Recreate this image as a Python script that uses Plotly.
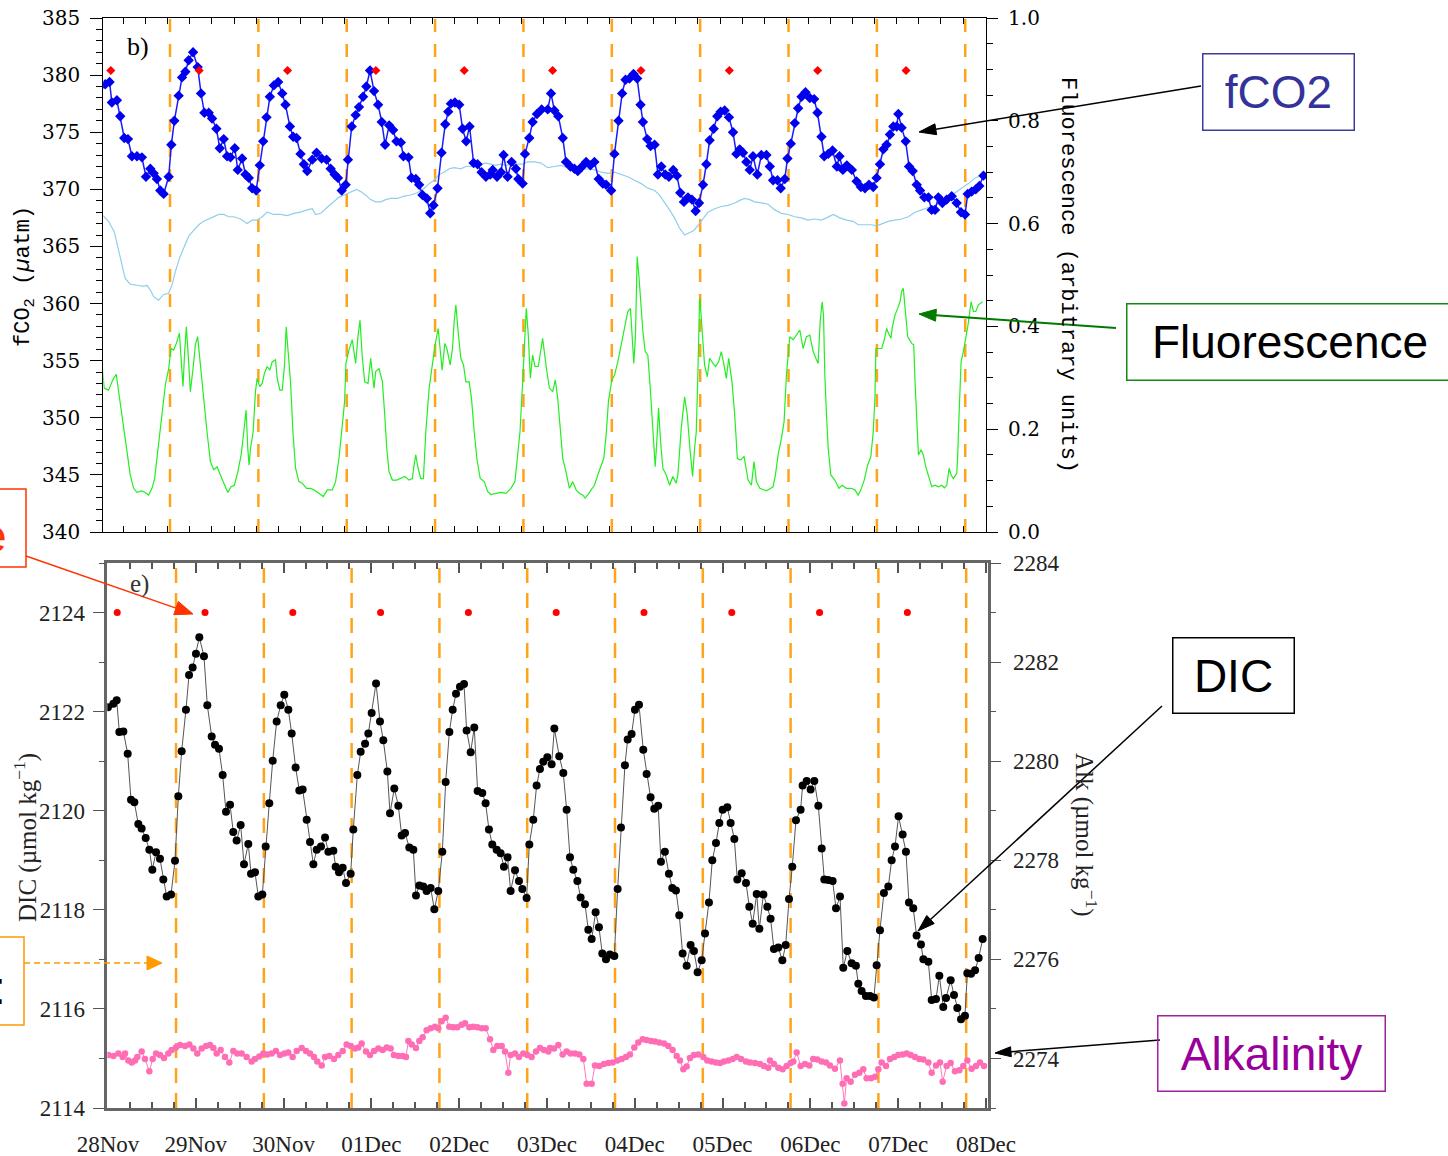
import math
import plotly.graph_objects as go

W, H = 1448, 1156

# ---------------- data (time in days since 28 Nov 00:00) ----------------
day_ticks = [0, 1, 2, 3, 4, 5, 6, 7, 8, 9, 10]
day_labels = ["28Nov", "29Nov", "30Nov", "01Dec", "02Dec", "03Dec",
              "04Dec", "05Dec", "06Dec", "07Dec", "08Dec"]

sunset_day = [0.775, 1.775, 2.775, 3.775, 4.775, 5.775, 6.775, 7.775, 8.775, 9.775]
marker_day = [0.105, 1.105, 2.105, 3.105, 4.105, 5.105, 6.105, 7.105, 8.105, 9.105]
marker_fco2 = [380.4, 380.4, 380.4, 380.4, 380.4, 380.4, 380.4, 380.4, 380.4, 380.4]
marker_dic = [2124.0, 2124.0, 2124.0, 2124.0, 2124.0, 2124.0, 2124.0, 2124.0, 2124.0, 2124.0]

fco2_pts = [
    (0.000, 379.1), (0.042, 379.2), (0.091, 379.4), (0.117, 377.6), (0.174, 377.8), (0.212, 376.4),
    (0.257, 374.5), (0.299, 374.4), (0.344, 372.9), (0.401, 372.9), (0.457, 372.8), (0.503, 371.1),
    (0.552, 371.8), (0.590, 371.4), (0.627, 370.9), (0.665, 369.9), (0.703, 369.6), (0.760, 371.1),
    (0.790, 373.9), (0.824, 376.0), (0.873, 378.2), (0.911, 379.8), (0.949, 380.3), (0.986, 381.3),
    (1.036, 382.0), (1.088, 380.7), (1.126, 378.4), (1.164, 376.7), (1.213, 376.7), (1.251, 376.2),
    (1.300, 375.3), (1.338, 373.6), (1.383, 374.4), (1.421, 372.9), (1.459, 372.8), (1.508, 373.6),
    (1.542, 371.7), (1.591, 372.7), (1.629, 371.3), (1.667, 371.0), (1.704, 370.1), (1.750, 369.9),
    (1.791, 372.1), (1.829, 374.2), (1.867, 376.3), (1.905, 378.1), (1.950, 379.1), (1.999, 379.4),
    (2.045, 378.4), (2.082, 377.4), (2.132, 375.5), (2.169, 374.6), (2.207, 374.5), (2.252, 373.1),
    (2.290, 372.2), (2.328, 371.6), (2.385, 372.6), (2.434, 373.2), (2.491, 372.7), (2.547, 372.6),
    (2.593, 371.8), (2.638, 371.3), (2.676, 371.0), (2.718, 369.9), (2.763, 370.4), (2.789, 372.6),
    (2.831, 375.5), (2.876, 376.5), (2.914, 377.2), (2.960, 378.1), (2.997, 379.0), (3.039, 380.4),
    (3.084, 378.6), (3.130, 377.4), (3.171, 375.9), (3.209, 373.9), (3.255, 375.6), (3.300, 375.2),
    (3.338, 374.2), (3.387, 374.1), (3.417, 372.9), (3.474, 372.8), (3.508, 371.0), (3.557, 370.9),
    (3.595, 370.4), (3.632, 369.5), (3.682, 369.2), (3.720, 367.9), (3.757, 368.6), (3.803, 370.1),
    (3.848, 373.2), (3.890, 375.7), (3.924, 376.8), (3.954, 377.5), (3.999, 377.6), (4.048, 377.4),
    (4.086, 375.3), (4.127, 374.2), (4.165, 375.5), (4.211, 372.3), (4.256, 372.2), (4.301, 371.5),
    (4.350, 371.1), (4.400, 371.3), (4.427, 371.7), (4.476, 371.1), (4.521, 371.5), (4.550, 373.0),
    (4.596, 371.1), (4.641, 372.4), (4.690, 371.8), (4.717, 370.9), (4.766, 370.5), (4.792, 373.1),
    (4.841, 374.5), (4.879, 375.9), (4.928, 376.6), (4.981, 377.0), (5.050, 377.0), (5.087, 378.4),
    (5.125, 376.9), (5.170, 376.4), (5.220, 374.5), (5.257, 372.4), (5.306, 372.0), (5.352, 371.8),
    (5.390, 371.6), (5.439, 372.0), (5.484, 372.4), (5.533, 372.1), (5.578, 372.4), (5.627, 370.9),
    (5.673, 370.5), (5.711, 370.4), (5.768, 369.9), (5.805, 373.1), (5.851, 376.0), (5.892, 378.4),
    (5.930, 379.6), (5.975, 379.7), (6.021, 380.1), (6.062, 379.7), (6.100, 377.4), (6.127, 375.9),
    (6.176, 374.4), (6.214, 373.8), (6.259, 373.9), (6.297, 371.3), (6.335, 372.0), (6.380, 371.3),
    (6.421, 371.1), (6.470, 371.7), (6.512, 371.2), (6.550, 369.7), (6.591, 368.9), (6.637, 369.3),
    (6.682, 369.1), (6.724, 368.1), (6.762, 368.8), (6.807, 370.4), (6.845, 372.2), (6.882, 374.3),
    (6.928, 375.3), (6.969, 376.4), (7.007, 376.8), (7.052, 376.9), (7.101, 376.3), (7.147, 375.0),
    (7.185, 373.1), (7.222, 373.5), (7.260, 373.2), (7.298, 372.4), (7.336, 371.7), (7.373, 372.9),
    (7.422, 371.3), (7.468, 373.0), (7.525, 373.0), (7.563, 372.0), (7.600, 370.8), (7.650, 370.8),
    (7.687, 370.1), (7.733, 370.9), (7.763, 372.7), (7.801, 374.0), (7.846, 375.8), (7.884, 377.1),
    (7.922, 378.1), (7.967, 378.5), (8.016, 378.0), (8.065, 377.9), (8.103, 376.7), (8.148, 374.6),
    (8.179, 372.9), (8.224, 373.1), (8.273, 373.4), (8.322, 372.0), (8.352, 372.9), (8.390, 371.7),
    (8.435, 372.1), (8.492, 371.7), (8.545, 370.7), (8.594, 370.2), (8.640, 370.1), (8.685, 370.4),
    (8.734, 370.2), (8.772, 371.0), (8.810, 372.2), (8.848, 373.5), (8.885, 373.9), (8.923, 374.8),
    (8.961, 375.5), (8.999, 375.5), (9.018, 376.6), (9.055, 375.4), (9.101, 374.2), (9.139, 372.0),
    (9.180, 371.6), (9.226, 370.4), (9.264, 369.9), (9.312, 369.3), (9.358, 369.3), (9.395, 368.2),
    (9.433, 368.2), (9.471, 369.3), (9.516, 368.8), (9.565, 369.1), (9.622, 369.4), (9.678, 368.8),
    (9.727, 368.0), (9.773, 367.8), (9.803, 369.6), (9.848, 369.8), (9.894, 370.0), (9.935, 370.3),
    (9.981, 371.2),
]

lightblue_pts = [
    (0.004, 367.8), (0.079, 367.2), (0.144, 366.3), (0.193, 364.8), (0.231, 363.4), (0.268, 362.2),
    (0.325, 361.7), (0.401, 361.6), (0.476, 361.5), (0.514, 361.6), (0.552, 361.2), (0.590, 360.6),
    (0.646, 360.3), (0.703, 360.8), (0.760, 360.9), (0.797, 361.6), (0.835, 362.8), (0.884, 364.0),
    (0.930, 364.8), (0.986, 365.9), (1.043, 366.4), (1.100, 366.9), (1.156, 367.2), (1.213, 367.4),
    (1.270, 367.6), (1.327, 367.8), (1.383, 367.8), (1.440, 367.6), (1.497, 367.6), (1.572, 367.4),
    (1.648, 367.0), (1.704, 367.3), (1.761, 367.3), (1.818, 367.6), (1.875, 368.0), (1.950, 367.8),
    (2.026, 367.8), (2.101, 367.7), (2.177, 367.9), (2.252, 368.0), (2.328, 368.2), (2.385, 368.3),
    (2.423, 367.8), (2.479, 367.9), (2.536, 368.3), (2.585, 368.6), (2.630, 368.9), (2.687, 369.3),
    (2.744, 369.5), (2.800, 369.7), (2.849, 369.9), (2.887, 370.0), (2.933, 369.8), (2.989, 369.5),
    (3.046, 369.1), (3.103, 368.9), (3.159, 368.9), (3.216, 369.1), (3.273, 369.2), (3.348, 369.2),
    (3.424, 369.4), (3.500, 369.5), (3.575, 369.7), (3.651, 370.1), (3.708, 370.5), (3.764, 370.8),
    (3.821, 371.3), (3.878, 371.5), (3.934, 371.8), (3.991, 371.9), (4.066, 371.8), (4.123, 372.0),
    (4.180, 372.0), (4.236, 372.1), (4.293, 372.2), (4.350, 372.3), (4.407, 372.2), (4.463, 372.1),
    (4.520, 372.2), (4.577, 372.1), (4.633, 372.2), (4.709, 372.2), (4.766, 372.2), (4.822, 372.4),
    (4.898, 372.4), (4.974, 372.3), (5.049, 371.9), (5.125, 372.0), (5.200, 372.1), (5.276, 371.9),
    (5.351, 371.8), (5.427, 371.7), (5.503, 371.8), (5.578, 371.7), (5.654, 371.5), (5.729, 371.4),
    (5.805, 371.5), (5.881, 371.3), (5.956, 371.1), (6.032, 370.8), (6.107, 370.5), (6.183, 370.1),
    (6.259, 369.9), (6.315, 369.5), (6.372, 368.9), (6.429, 368.2), (6.485, 367.5), (6.542, 366.6),
    (6.599, 366.0), (6.644, 366.2), (6.704, 366.4), (6.757, 366.9), (6.807, 367.4), (6.863, 368.0),
    (6.939, 368.3), (7.014, 368.5), (7.090, 368.6), (7.166, 368.8), (7.241, 369.1), (7.279, 369.2),
    (7.336, 369.1), (7.392, 368.9), (7.487, 368.8), (7.544, 368.7), (7.619, 368.2), (7.695, 367.9),
    (7.770, 367.8), (7.846, 367.6), (7.922, 367.5), (7.997, 367.3), (8.073, 367.4), (8.148, 367.3),
    (8.205, 367.5), (8.281, 367.8), (8.356, 367.5), (8.432, 367.3), (8.507, 367.2), (8.564, 366.9),
    (8.639, 366.9), (8.715, 366.9), (8.772, 366.8), (8.828, 367.0), (8.904, 367.2), (8.980, 367.3),
    (9.055, 367.4), (9.131, 367.6), (9.206, 368.0), (9.282, 368.2), (9.358, 368.4), (9.433, 368.6),
    (9.509, 368.9), (9.584, 369.2), (9.660, 369.7), (9.735, 370.1), (9.811, 370.5), (9.887, 371.0),
    (9.981, 371.3),
]

fluor_pts = [
    (0.004, 0.328), (0.030, 0.280), (0.079, 0.276), (0.128, 0.296), (0.166, 0.307), (0.204, 0.260),
    (0.242, 0.215), (0.287, 0.163), (0.325, 0.111), (0.363, 0.085), (0.401, 0.077), (0.457, 0.080),
    (0.495, 0.077), (0.533, 0.072), (0.571, 0.085), (0.601, 0.104), (0.639, 0.163), (0.684, 0.228),
    (0.722, 0.286), (0.760, 0.318), (0.786, 0.357), (0.816, 0.354), (0.847, 0.367), (0.881, 0.387),
    (0.899, 0.338), (0.922, 0.283), (0.941, 0.351), (0.960, 0.399), (0.986, 0.331), (1.005, 0.273),
    (1.036, 0.318), (1.062, 0.364), (1.088, 0.380), (1.119, 0.331), (1.156, 0.260), (1.194, 0.195),
    (1.232, 0.137), (1.270, 0.121), (1.308, 0.127), (1.345, 0.111), (1.391, 0.091), (1.429, 0.077),
    (1.466, 0.088), (1.504, 0.091), (1.542, 0.117), (1.580, 0.150), (1.610, 0.195), (1.636, 0.237),
    (1.655, 0.163), (1.670, 0.130), (1.686, 0.163), (1.716, 0.195), (1.742, 0.273), (1.761, 0.299),
    (1.791, 0.283), (1.818, 0.289), (1.844, 0.309), (1.875, 0.322), (1.905, 0.315), (1.931, 0.331),
    (1.969, 0.335), (1.988, 0.299), (2.018, 0.276), (2.045, 0.276), (2.071, 0.325), (2.090, 0.399),
    (2.109, 0.357), (2.139, 0.292), (2.166, 0.195), (2.196, 0.124), (2.234, 0.098), (2.271, 0.095),
    (2.320, 0.085), (2.366, 0.085), (2.404, 0.082), (2.449, 0.077), (2.498, 0.072), (2.510, 0.069),
    (2.555, 0.082), (2.612, 0.082), (2.649, 0.098), (2.687, 0.143), (2.725, 0.208), (2.751, 0.254),
    (2.766, 0.328), (2.800, 0.354), (2.838, 0.374), (2.876, 0.328), (2.902, 0.380), (2.925, 0.412),
    (2.952, 0.338), (2.978, 0.292), (3.016, 0.289), (3.046, 0.338), (3.084, 0.280), (3.103, 0.312),
    (3.141, 0.318), (3.179, 0.292), (3.205, 0.228), (3.228, 0.163), (3.254, 0.117), (3.292, 0.101),
    (3.341, 0.101), (3.386, 0.104), (3.432, 0.108), (3.481, 0.101), (3.518, 0.104), (3.537, 0.130),
    (3.556, 0.150), (3.583, 0.124), (3.613, 0.104), (3.643, 0.104), (3.670, 0.195), (3.708, 0.280),
    (3.745, 0.325), (3.772, 0.361), (3.810, 0.396), (3.832, 0.357), (3.855, 0.315), (3.885, 0.367),
    (3.908, 0.357), (3.946, 0.325), (3.972, 0.357), (3.991, 0.409), (4.010, 0.442), (4.036, 0.390),
    (4.066, 0.338), (4.097, 0.325), (4.123, 0.292), (4.161, 0.292), (4.187, 0.260), (4.218, 0.195),
    (4.248, 0.143), (4.286, 0.104), (4.331, 0.098), (4.369, 0.079), (4.407, 0.073), (4.463, 0.075),
    (4.520, 0.077), (4.577, 0.075), (4.633, 0.085), (4.679, 0.098), (4.709, 0.143), (4.736, 0.195),
    (4.766, 0.292), (4.785, 0.357), (4.807, 0.435), (4.830, 0.383), (4.853, 0.299), (4.879, 0.344),
    (4.906, 0.322), (4.943, 0.322), (4.992, 0.377), (5.030, 0.325), (5.068, 0.280), (5.106, 0.273),
    (5.136, 0.296), (5.163, 0.260), (5.193, 0.195), (5.220, 0.143), (5.257, 0.117), (5.295, 0.085),
    (5.333, 0.098), (5.371, 0.082), (5.409, 0.075), (5.446, 0.072), (5.473, 0.066), (5.503, 0.072),
    (5.541, 0.082), (5.579, 0.091), (5.616, 0.111), (5.654, 0.127), (5.684, 0.143), (5.711, 0.189),
    (5.737, 0.254), (5.775, 0.296), (5.805, 0.305), (5.843, 0.331), (5.881, 0.364), (5.919, 0.403),
    (5.956, 0.429), (5.986, 0.435), (6.005, 0.383), (6.024, 0.328), (6.043, 0.383), (6.062, 0.536),
    (6.081, 0.500), (6.100, 0.455), (6.127, 0.390), (6.153, 0.351), (6.183, 0.344), (6.213, 0.273),
    (6.240, 0.208), (6.266, 0.127), (6.289, 0.189), (6.304, 0.241), (6.327, 0.176), (6.353, 0.124),
    (6.391, 0.111), (6.429, 0.091), (6.466, 0.108), (6.504, 0.095), (6.523, 0.111), (6.561, 0.202),
    (6.599, 0.263), (6.629, 0.228), (6.659, 0.163), (6.689, 0.108), (6.712, 0.163), (6.731, 0.195),
    (6.750, 0.312), (6.769, 0.455), (6.780, 0.435), (6.799, 0.383), (6.825, 0.325), (6.856, 0.302),
    (6.882, 0.338), (6.920, 0.328), (6.950, 0.322), (6.984, 0.331), (7.014, 0.351), (7.045, 0.325),
    (7.071, 0.299), (7.098, 0.338), (7.135, 0.292), (7.166, 0.228), (7.196, 0.143), (7.234, 0.140),
    (7.272, 0.147), (7.317, 0.101), (7.355, 0.091), (7.385, 0.137), (7.412, 0.098), (7.450, 0.085),
    (7.499, 0.082), (7.525, 0.080), (7.574, 0.085), (7.600, 0.088), (7.627, 0.111), (7.657, 0.150),
    (7.695, 0.182), (7.725, 0.215), (7.751, 0.305), (7.770, 0.351), (7.789, 0.380), (7.827, 0.374),
    (7.865, 0.383), (7.903, 0.393), (7.940, 0.357), (7.978, 0.380), (8.016, 0.383), (8.054, 0.351),
    (8.084, 0.338), (8.110, 0.328), (8.133, 0.409), (8.156, 0.448), (8.171, 0.422), (8.186, 0.305),
    (8.205, 0.228), (8.224, 0.163), (8.254, 0.111), (8.299, 0.101), (8.345, 0.085), (8.382, 0.091),
    (8.431, 0.085), (8.481, 0.085), (8.526, 0.082), (8.564, 0.072), (8.594, 0.082), (8.632, 0.101),
    (8.670, 0.130), (8.707, 0.147), (8.734, 0.195), (8.753, 0.260), (8.764, 0.357), (8.791, 0.357),
    (8.829, 0.357), (8.859, 0.374), (8.886, 0.396), (8.905, 0.387), (8.935, 0.377), (8.950, 0.399),
    (8.980, 0.422), (9.010, 0.435), (9.037, 0.448), (9.055, 0.468), (9.074, 0.474), (9.093, 0.438),
    (9.124, 0.380), (9.169, 0.367), (9.192, 0.364), (9.207, 0.292), (9.226, 0.228), (9.245, 0.150),
    (9.275, 0.160), (9.301, 0.150), (9.328, 0.127), (9.358, 0.108), (9.396, 0.088), (9.433, 0.091),
    (9.471, 0.088), (9.509, 0.091), (9.539, 0.086), (9.566, 0.091), (9.592, 0.124), (9.615, 0.111),
    (9.641, 0.104), (9.679, 0.114), (9.690, 0.150), (9.705, 0.228), (9.728, 0.331), (9.754, 0.351),
    (9.773, 0.367), (9.803, 0.399), (9.822, 0.422), (9.841, 0.448), (9.868, 0.429), (9.894, 0.429),
    (9.924, 0.442), (9.973, 0.448),
]

dic_pts = [
    (0.000, 2122.09), (0.061, 2122.16), (0.099, 2122.23), (0.129, 2121.59), (0.175, 2121.60),
    (0.224, 2121.15), (0.262, 2120.22), (0.300, 2120.17), (0.345, 2119.73), (0.383, 2119.64),
    (0.429, 2119.45), (0.471, 2119.21), (0.505, 2118.81), (0.547, 2119.16), (0.592, 2119.03),
    (0.630, 2118.61), (0.668, 2118.27), (0.718, 2118.31), (0.763, 2118.99), (0.801, 2120.29),
    (0.839, 2121.20), (0.888, 2122.04), (0.923, 2122.74), (0.964, 2122.89), (1.002, 2123.17),
    (1.040, 2123.50), (1.093, 2123.12), (1.131, 2122.13), (1.181, 2121.50), (1.219, 2121.33),
    (1.264, 2121.25), (1.306, 2120.72), (1.344, 2119.98), (1.390, 2120.12), (1.427, 2119.57),
    (1.465, 2119.40), (1.511, 2119.71), (1.549, 2118.92), (1.598, 2119.33), (1.629, 2118.73),
    (1.674, 2118.76), (1.712, 2118.27), (1.758, 2118.31), (1.796, 2119.28), (1.837, 2120.15),
    (1.876, 2121.01), (1.921, 2121.80), (1.967, 2122.13), (2.008, 2122.34), (2.054, 2122.04),
    (2.092, 2121.56), (2.137, 2120.87), (2.179, 2120.41), (2.217, 2120.43), (2.263, 2119.82),
    (2.301, 2119.37), (2.339, 2118.92), (2.377, 2119.21), (2.426, 2119.28), (2.472, 2119.46),
    (2.510, 2119.17), (2.567, 2119.19), (2.593, 2118.87), (2.631, 2118.76), (2.673, 2118.85),
    (2.711, 2118.54), (2.764, 2118.73), (2.794, 2119.62), (2.840, 2120.72), (2.878, 2121.19),
    (2.928, 2121.35), (2.965, 2121.56), (3.003, 2121.97), (3.053, 2122.57), (3.098, 2121.80),
    (3.136, 2121.42), (3.182, 2120.79), (3.212, 2119.95), (3.261, 2120.45), (3.307, 2120.10),
    (3.345, 2119.50), (3.383, 2119.55), (3.432, 2119.26), (3.478, 2119.21), (3.508, 2118.29),
    (3.546, 2118.49), (3.591, 2118.47), (3.629, 2118.38), (3.675, 2118.44), (3.717, 2118.01),
    (3.762, 2118.38), (3.808, 2119.17), (3.846, 2120.58), (3.888, 2121.59), (3.926, 2122.04),
    (3.964, 2122.36), (4.009, 2122.50), (4.055, 2122.56), (4.085, 2121.62), (4.131, 2121.18),
    (4.172, 2121.68), (4.210, 2120.40), (4.263, 2120.36), (4.301, 2120.15), (4.339, 2119.62),
    (4.377, 2119.32), (4.427, 2119.21), (4.472, 2119.14), (4.510, 2118.87), (4.551, 2119.06),
    (4.586, 2118.38), (4.636, 2118.80), (4.681, 2118.58), (4.719, 2118.42), (4.768, 2118.24),
    (4.799, 2119.32), (4.844, 2119.82), (4.882, 2120.51), (4.920, 2120.84), (4.958, 2120.99),
    (5.004, 2121.08), (5.053, 2120.94), (5.084, 2121.66), (5.140, 2121.10), (5.186, 2120.76),
    (5.224, 2120.02), (5.262, 2119.06), (5.300, 2118.81), (5.346, 2118.58), (5.383, 2118.25),
    (5.433, 2118.11), (5.471, 2117.60), (5.509, 2117.41), (5.554, 2117.95), (5.592, 2117.65),
    (5.630, 2117.12), (5.672, 2117.00), (5.717, 2117.10), (5.767, 2117.07), (5.805, 2118.42),
    (5.843, 2119.66), (5.888, 2120.92), (5.919, 2121.44), (5.964, 2121.55), (6.002, 2122.04),
    (6.048, 2122.14), (6.097, 2121.23), (6.135, 2120.74), (6.180, 2120.27), (6.222, 2120.04),
    (6.267, 2120.10), (6.298, 2118.97), (6.343, 2119.17), (6.389, 2118.73), (6.427, 2118.44),
    (6.469, 2118.39), (6.507, 2117.89), (6.545, 2117.12), (6.591, 2116.87), (6.636, 2117.29),
    (6.674, 2117.17), (6.716, 2116.74), (6.762, 2116.98), (6.800, 2117.52), (6.845, 2118.15),
    (6.883, 2119.00), (6.925, 2119.35), (6.963, 2119.75), (7.001, 2120.02), (7.054, 2120.07),
    (7.092, 2119.75), (7.134, 2119.43), (7.168, 2118.61), (7.218, 2118.74), (7.267, 2118.54),
    (7.305, 2118.06), (7.343, 2117.72), (7.389, 2118.32), (7.419, 2117.62), (7.465, 2118.31),
    (7.510, 2118.06), (7.547, 2117.82), (7.585, 2117.21), (7.635, 2117.24), (7.681, 2116.98),
    (7.719, 2117.29), (7.757, 2118.22), (7.794, 2118.87), (7.836, 2119.81), (7.889, 2120.02),
    (7.912, 2120.51), (7.958, 2120.60), (8.003, 2120.43), (8.045, 2120.60), (8.091, 2120.10),
    (8.129, 2119.24), (8.159, 2118.61), (8.204, 2118.60), (8.254, 2118.58), (8.292, 2118.03),
    (8.338, 2118.27), (8.375, 2116.83), (8.421, 2117.17), (8.470, 2116.92), (8.519, 2116.87),
    (8.546, 2116.51), (8.584, 2116.36), (8.633, 2116.26), (8.679, 2116.26), (8.724, 2116.23),
    (8.755, 2116.88), (8.793, 2117.59), (8.838, 2118.34), (8.888, 2118.47), (8.926, 2119.00),
    (8.964, 2119.28), (9.005, 2119.89), (9.051, 2119.52), (9.089, 2119.17), (9.123, 2118.15),
    (9.172, 2118.03), (9.210, 2117.48), (9.260, 2117.30), (9.287, 2117.00), (9.344, 2116.95),
    (9.382, 2116.18), (9.431, 2116.20), (9.469, 2116.67), (9.514, 2116.04), (9.545, 2116.22),
    (9.598, 2116.58), (9.636, 2116.28), (9.674, 2116.02), (9.716, 2115.79), (9.761, 2115.86),
    (9.788, 2116.72), (9.830, 2116.71), (9.876, 2116.78), (9.917, 2117.03), (9.963, 2117.41),
]

alk_pts = [
    (0.004, 2274.07), (0.061, 2274.05), (0.118, 2274.10), (0.167, 2274.03), (0.194, 2274.10),
    (0.232, 2273.96), (0.270, 2273.92), (0.308, 2273.96), (0.334, 2274.03), (0.383, 2274.14),
    (0.421, 2273.99), (0.471, 2273.74), (0.509, 2273.99), (0.547, 2274.10), (0.592, 2274.07),
    (0.638, 2274.01), (0.687, 2274.10), (0.725, 2274.17), (0.774, 2274.22), (0.820, 2274.27),
    (0.877, 2274.25), (0.926, 2274.28), (0.972, 2274.20), (1.017, 2274.10), (1.067, 2274.20),
    (1.116, 2274.25), (1.162, 2274.27), (1.200, 2274.21), (1.238, 2274.10), (1.283, 2274.17),
    (1.333, 2274.03), (1.382, 2273.92), (1.427, 2274.15), (1.473, 2274.10), (1.522, 2274.10),
    (1.579, 2274.03), (1.636, 2273.94), (1.674, 2273.99), (1.724, 2274.04), (1.769, 2274.10),
    (1.815, 2274.08), (1.864, 2274.10), (1.913, 2274.15), (1.959, 2274.07), (2.008, 2274.10),
    (2.054, 2274.12), (2.103, 2274.03), (2.149, 2274.15), (2.206, 2274.21), (2.255, 2274.15),
    (2.301, 2274.10), (2.346, 2274.03), (2.384, 2273.94), (2.434, 2273.86), (2.472, 2274.03),
    (2.521, 2274.05), (2.574, 2273.99), (2.623, 2274.07), (2.673, 2274.15), (2.718, 2274.28),
    (2.764, 2274.25), (2.813, 2274.20), (2.851, 2274.22), (2.889, 2274.30), (2.939, 2274.14),
    (2.984, 2274.07), (3.030, 2274.15), (3.079, 2274.20), (3.128, 2274.17), (3.174, 2274.22),
    (3.219, 2274.20), (3.257, 2274.07), (3.307, 2274.05), (3.356, 2274.05), (3.394, 2274.03),
    (3.421, 2274.35), (3.459, 2274.28), (3.508, 2274.21), (3.546, 2274.35), (3.584, 2274.43),
    (3.629, 2274.57), (3.675, 2274.61), (3.724, 2274.64), (3.762, 2274.61), (3.800, 2274.75),
    (3.846, 2274.82), (3.888, 2274.64), (3.933, 2274.63), (3.979, 2274.63), (4.028, 2274.68),
    (4.066, 2274.71), (4.116, 2274.63), (4.161, 2274.64), (4.207, 2274.63), (4.256, 2274.61),
    (4.302, 2274.61), (4.351, 2274.39), (4.389, 2274.17), (4.435, 2274.25), (4.484, 2274.25),
    (4.522, 2274.14), (4.560, 2273.71), (4.586, 2274.07), (4.636, 2274.10), (4.681, 2274.03),
    (4.730, 2274.10), (4.776, 2274.07), (4.825, 2274.03), (4.875, 2274.14), (4.920, 2274.21),
    (4.966, 2274.17), (5.015, 2274.14), (5.034, 2274.21), (5.080, 2274.20), (5.129, 2274.27),
    (5.178, 2274.08), (5.224, 2274.14), (5.270, 2274.10), (5.319, 2274.10), (5.368, 2274.08),
    (5.414, 2273.99), (5.452, 2273.49), (5.509, 2273.49), (5.547, 2273.86), (5.596, 2273.85),
    (5.649, 2273.89), (5.699, 2273.91), (5.748, 2273.92), (5.801, 2273.96), (5.851, 2273.99),
    (5.900, 2274.03), (5.945, 2274.08), (5.995, 2274.22), (6.040, 2274.32), (6.090, 2274.39),
    (6.135, 2274.37), (6.185, 2274.35), (6.230, 2274.34), (6.279, 2274.32), (6.333, 2274.30),
    (6.382, 2274.25), (6.431, 2274.17), (6.477, 2274.05), (6.515, 2273.96), (6.553, 2273.78),
    (6.591, 2273.84), (6.629, 2274.01), (6.674, 2274.07), (6.724, 2274.08), (6.781, 2274.03),
    (6.826, 2273.96), (6.876, 2273.94), (6.925, 2273.92), (6.971, 2273.91), (7.016, 2273.94),
    (7.066, 2273.96), (7.115, 2273.99), (7.161, 2274.03), (7.210, 2273.99), (7.267, 2273.94),
    (7.312, 2273.92), (7.369, 2273.91), (7.426, 2273.89), (7.472, 2273.85), (7.521, 2273.81),
    (7.540, 2273.96), (7.585, 2273.89), (7.635, 2273.81), (7.684, 2273.78), (7.730, 2273.85),
    (7.775, 2273.91), (7.806, 2273.94), (7.844, 2274.12), (7.889, 2273.85), (7.938, 2273.89),
    (7.988, 2273.86), (8.033, 2273.99), (8.079, 2273.98), (8.128, 2273.94), (8.178, 2273.92),
    (8.223, 2273.86), (8.280, 2273.79), (8.337, 2273.96), (8.368, 2273.49), (8.387, 2273.09),
    (8.413, 2273.60), (8.459, 2273.53), (8.508, 2273.67), (8.558, 2273.71), (8.603, 2273.78),
    (8.641, 2273.60), (8.691, 2273.60), (8.736, 2273.63), (8.774, 2273.78), (8.812, 2273.92),
    (8.862, 2273.85), (8.907, 2273.99), (8.956, 2274.03), (9.002, 2274.07), (9.051, 2274.08),
    (9.097, 2274.10), (9.143, 2274.07), (9.192, 2274.03), (9.241, 2273.99), (9.287, 2273.98),
    (9.344, 2273.92), (9.382, 2273.71), (9.431, 2273.86), (9.477, 2273.92), (9.507, 2273.53),
    (9.552, 2273.85), (9.598, 2273.91), (9.647, 2273.74), (9.697, 2273.76), (9.742, 2273.85),
    (9.788, 2273.96), (9.837, 2273.79), (9.887, 2273.85), (9.932, 2273.92), (9.978, 2273.85),
]

fco2_day, fco2_val = zip(*fco2_pts)
lb_day, lb_val = zip(*lightblue_pts)
fl_day, fl_val = zip(*fluor_pts)
dic_day, dic_val = zip(*dic_pts)
alk_day, alk_val = zip(*alk_pts)


# ---------------- helpers (pixel -> paper) ----------------
def px(x):
    return x / W


def py(y):
    return 1 - y / H


SERIF = "Liberation Serif"
MONO = "Liberation Mono"
DV = "DejaVu Serif"
SANS = "Liberation Sans"
ORANGE = "#ffa31a"

fig = go.Figure()

# ---- top panel ----
fig.add_trace(go.Scatter(x=lb_day, y=lb_val, xaxis="x2", yaxis="y2", mode="lines",
                         line=dict(color="#8fcfe8", width=1.2), hoverinfo="skip"))
fig.add_trace(go.Scatter(x=fl_day, y=fl_val, xaxis="x2", yaxis="y3", mode="lines",
                         line=dict(color="#22ee22", width=1.2), hoverinfo="skip"))
fig.add_trace(go.Scatter(x=fco2_day, y=fco2_val, xaxis="x2", yaxis="y2", mode="lines+markers",
                         line=dict(color="#1a1aff", width=1.5),
                         marker=dict(symbol="diamond", size=8, color="#0000ee")))
fig.add_trace(go.Scatter(x=marker_day, y=marker_fco2, xaxis="x2", yaxis="y2", mode="markers",
                         marker=dict(symbol="diamond", size=7, color="#ff0000")))

# ---- bottom panel ----
fig.add_trace(go.Scatter(x=alk_day, y=alk_val, xaxis="x", yaxis="y4", mode="lines+markers",
                         line=dict(color="#ff77bb", width=1),
                         marker=dict(symbol="circle", size=6.5, color="#ff6eb4")))
fig.add_trace(go.Scatter(x=dic_day, y=dic_val, xaxis="x", yaxis="y", mode="lines+markers",
                         line=dict(color="#555555", width=1),
                         marker=dict(symbol="circle", size=8, color="#000000")))
fig.add_trace(go.Scatter(x=marker_day, y=marker_dic, xaxis="x", yaxis="y", mode="markers",
                         marker=dict(symbol="circle", size=7, color="#ff0000")))

shapes = []
for d in sunset_day:
    shapes.append(dict(type="line", xref="x2", yref="y2 domain", x0=d, x1=d, y0=0, y1=1,
                       line=dict(color=ORANGE, width=2.5, dash="13px,12px"), layer="below"))
    shapes.append(dict(type="line", xref="x", yref="y domain", x0=d, x1=d, y0=0, y1=1,
                       line=dict(color=ORANGE, width=2.5, dash="15px,10px"), layer="below"))

# left partially visible boxes
shapes.append(dict(type="rect", xref="paper", yref="paper", x0=px(-30), x1=px(26),
                   y0=py(567), y1=py(489), line=dict(color="#ff3300", width=1.5)))
shapes.append(dict(type="rect", xref="paper", yref="paper", x0=px(-30), x1=px(24),
                   y0=py(1025), y1=py(937), line=dict(color="#ff9900", width=1.5)))


def arrow(tail, tip, color, width=1.5, head_len=16, head_w=11, dash=None):
    """Line + filled triangular head, given in screen pixels."""
    dx, dy = tip[0] - tail[0], tip[1] - tail[1]
    n = math.hypot(dx, dy)
    ux, uy = dx / n, dy / n
    bx, by = tip[0] - ux * head_len, tip[1] - uy * head_len
    nx, ny = -uy * head_w / 2, ux * head_w / 2
    line = dict(color=color, width=width)
    if dash:
        line["dash"] = dash
    out = [dict(type="line", xref="paper", yref="paper", x0=px(tail[0]), y0=py(tail[1]),
                x1=px(bx), y1=py(by), line=line)]
    path = "M {:.5f} {:.5f} L {:.5f} {:.5f} L {:.5f} {:.5f} Z".format(
        px(tip[0]), py(tip[1]), px(bx + nx), py(by + ny), px(bx - nx), py(by - ny))
    out.append(dict(type="path", xref="paper", yref="paper", path=path,
                    fillcolor=color, line=dict(color=color, width=1)))
    return out


shapes += arrow((1201, 86), (919, 132), "#000000", 1.5, 17, 11)
shapes += arrow((1116, 328), (919, 314), "#007a00", 2, 17, 12)
shapes += arrow((1162, 706), (918, 931), "#000000", 1.5, 17, 11)
shapes += arrow((1160, 1040), (995, 1053), "#000000", 1.5, 16, 10)
shapes += arrow((26, 556), (193, 614), "#ff3300", 1.5, 18, 14)
shapes += arrow((24, 963), (162, 963), "#ff9900", 1.5, 15, 14, dash="6px,4px")

ann = []


def text(t, x, y, family, size, color="black", angle=0, xanchor="center"):
    return dict(x=px(x), y=py(y), xref="paper", yref="paper", text=t, showarrow=False,
                textangle=angle, xanchor=xanchor, yanchor="middle",
                font=dict(family=family, size=size, color=color))


def box(t, cx, cy, w, h, color, border, size=46):
    return dict(x=px(cx), y=py(cy), xref="paper", yref="paper", text=t, showarrow=False,
                font=dict(family=SANS, size=size, color=color), bordercolor=border,
                borderwidth=1.5, borderpad=0, width=w, height=h,
                xanchor="center", yanchor="middle", bgcolor="rgba(255,255,255,0)")


ann.append(box("fCO2", 1278, 92.5, 150, 75, "#333399", "#3b3ba0"))
ann.append(box("Fluorescence", 1290, 341.5, 325, 75, "#000000", "#128a12"))
ann.append(box("DIC", 1233, 675, 120, 74, "#000000", "#000000"))
ann.append(box("Alkalinity", 1271, 1053, 226, 74, "#990099", "#a020a0"))

# cut-off texts at the left edge (the reference shows only their right ends)
ann.append(text("e", 9, 536, SANS, 46, "#ff3300", xanchor="right"))
ann.append(text(":", 8, 988, SANS, 46, "#000000", xanchor="right"))

# panel letters
ann.append(text("b)", 138, 46, SERIF, 26, "black"))
ann.append(text("e)", 139, 584, SERIF, 25, "#333"))

# axis titles
ann.append(text("fCO<sub>2</sub> (<i>\u00b5</i>atm)", 25, 277, MONO, 22, "black", -90))
ann.append(text("Fluorescence (arbitrary units)", 1068, 275, MONO, 22, "black", 90))
ann.append(text("DIC (\u00b5mol kg<sup>\u22121</sup>)", 25, 838, SERIF, 25, "#222", -90))
ann.append(text("Alk (\u00b5mol kg<sup>\u22121</sup>)", 1086, 835, SERIF, 25, "#222", 90))

TOPLINE = dict(showline=True, linecolor="black", linewidth=1.2, showgrid=False,
               zeroline=False, automargin=False)
BOTLINE = dict(showline=True, linecolor="#666666", linewidth=2.5, showgrid=False,
               zeroline=False, automargin=False)

fig.update_layout(
    width=W, height=H, margin=dict(l=0, r=0, t=0, b=0, pad=0, autoexpand=False),
    paper_bgcolor="white", plot_bgcolor="white", showlegend=False,
    shapes=shapes, annotations=ann,
    xaxis=dict(domain=[px(107.3), px(987.7)], range=[-0.008, 10.02], anchor="y",
               tickmode="array", tickvals=day_ticks, ticktext=day_labels,
               ticks="inside", ticklen=10, tickwidth=1.5, tickcolor="#555", mirror="ticks",
               minor=dict(tick0=0, dtick=0.25, ticks="inside", ticklen=6, tickcolor="#555"),
               ticklabelstandoff=14,
               tickfont=dict(family=SERIF, size=23, color="#222"), **BOTLINE),
    yaxis=dict(domain=[py(1108), py(563)], range=[2114, 2125], anchor="x",
               tick0=2114, dtick=2, ticks="outside", ticklen=12, tickcolor="#555",
               minor=dict(dtick=1, ticks="outside", ticklen=6, tickcolor="#555"),
               ticklabelstandoff=3,
               tickfont=dict(family=SERIF, size=23, color="#222"), **BOTLINE),
    yaxis4=dict(overlaying="y", side="right", anchor="x", range=[2273, 2284],
                tick0=2274, dtick=2, ticks="outside", ticklen=11, tickcolor="#555",
                minor=dict(dtick=1, ticks="outside", ticklen=6, tickcolor="#555"),
                ticklabelstandoff=7,
                tickfont=dict(family=SERIF, size=23, color="#222"), **BOTLINE),
    xaxis2=dict(domain=[px(103.3), px(986)], range=[0.02, 10.01], anchor="y2",
                tickmode="linear", tick0=0, dtick=0.25, ticks="inside", ticklen=6,
                tickcolor="black", showticklabels=False, mirror="ticks", **TOPLINE),
    yaxis2=dict(domain=[py(532), py(18)], range=[340, 385], anchor="x2",
                tick0=340, dtick=5, ticks="outside", ticklen=12, tickcolor="black",
                minor=dict(dtick=1, ticks="outside", ticklen=6, tickcolor="black"),
                ticklabelstandoff=6,
                tickfont=dict(family=DV, size=20, color="black"), **TOPLINE),
    yaxis3=dict(overlaying="y2", side="right", anchor="x2", range=[0, 1],
                tick0=0, dtick=0.2, tickformat=".1f", ticks="outside", ticklen=11,
                tickcolor="black",
                minor=dict(dtick=0.05, ticks="outside", ticklen=6, tickcolor="black"),
                ticklabelstandoff=6,
                tickfont=dict(family=DV, size=20, color="black"), **TOPLINE),
)

fig.write_html("out.html", config={"displayModeBar": False},
               post_script="document.body.style.margin='0px';document.body.style.padding='0px';")
